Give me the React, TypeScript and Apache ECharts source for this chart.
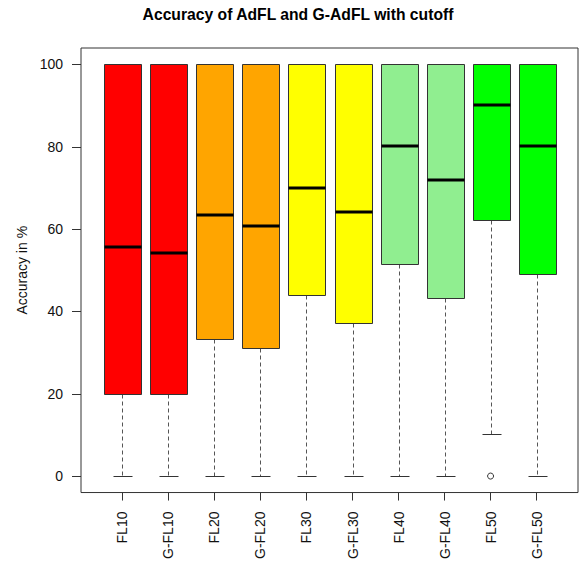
import React, { useEffect, useRef } from "react";
import * as echarts from "echarts";

const categories = ["FL10", "G-FL10", "FL20", "G-FL20", "FL30", "G-FL30", "FL40", "G-FL40", "FL50", "G-FL50"];
const lowerWhisker = [0, 0, 0, 0, 0, 0, 0, 0, 10.2, 0];
const q1 = [20, 20, 33.2, 31.2, 44, 37.1, 51.5, 43.2, 62.2, 49.1];
const median = [55.7, 54.1, 63.5, 60.7, 70.1, 64.2, 80.1, 72, 90.2, 80.2];
const q3 = [100, 100, 100, 100, 100, 100, 100, 100, 100, 100];
const upperWhisker = [100, 100, 100, 100, 100, 100, 100, 100, 100, 100];
const outlierCategory = ["FL50"];
const outlierValue = [0];
const boxColors = ["#FF0000", "#FF0000", "#FFA500", "#FFA500", "#FFFF00", "#FFFF00", "#90EE90", "#90EE90", "#00FF00", "#00FF00"];
const yTicks = [0, 20, 40, 60, 80, 100];
const titleText = "Accuracy of AdFL and G-AdFL with cutoff";
const yAxisTitle = "Accuracy in %";

export default function App() {
  const ref = useRef<HTMLDivElement>(null);
  useEffect(() => {
    if (!ref.current) return;
    const chart = echarts.init(ref.current, null, { renderer: "svg" });
    const boxData = categories.map((c, i) => [i + 1, lowerWhisker[i], q1[i], median[i], q3[i], upperWhisker[i]]);
    const outData = outlierCategory.map((c, i) => [categories.indexOf(c) + 1, outlierValue[i]]);
    const font = "Liberation Sans, Arial, sans-serif";
    const xPositions = categories.map((c, i) => i + 1);
    chart.setOption({
      animation: false,
      backgroundColor: "#ffffff",
      grid: {
        left: 81,
        top: 48,
        width: 497,
        height: 445,
        show: true,
        borderColor: "#333",
        borderWidth: 1,
        backgroundColor: "transparent",
      },
      graphic: [
        {
          type: "text",
          x: 298,
          y: 14,
          style: {
            text: titleText,
            font: "bold 15.7px " + font,
            fill: "#000",
            textAlign: "center",
            textVerticalAlign: "middle",
          },
        },
      ],
      xAxis: {
        type: "value",
        min: 0.1,
        max: 10.9,
        splitLine: { show: false },
        axisLine: { show: false, onZero: false },
        axisTick: { show: true, length: 8, customValues: xPositions, lineStyle: { color: "#333" } },
        axisLabel: {
          customValues: xPositions,
          rotate: 90,
          margin: 19,
          fontSize: 14,
          fontFamily: font,
          color: "#111",
          formatter: (v: number) => categories[Math.round(v) - 1] || "",
        },
      },
      yAxis: {
        type: "value",
        min: -4,
        max: 104,
        name: yAxisTitle,
        nameLocation: "middle",
        nameGap: 52,
        nameTextStyle: { fontSize: 14, fontFamily: font, color: "#111" },
        splitLine: { show: false },
        axisLine: { show: false, onZero: false },
        axisTick: { show: true, length: 9, customValues: yTicks, lineStyle: { color: "#333" } },
        axisLabel: {
          customValues: yTicks,
          margin: 18,
          fontSize: 14,
          fontFamily: font,
          color: "#111",
        },
      },
      series: [
        {
          type: "custom",
          data: boxData,
          encode: { x: 0, y: [1, 2, 3, 4, 5] },
          renderItem: (params: any, api: any) => {
            const x = api.value(0);
            const idx = params.dataIndex;
            const pMin = api.coord([x, api.value(1)]);
            const pQ1 = api.coord([x, api.value(2)]);
            const pMed = api.coord([x, api.value(3)]);
            const pQ3 = api.coord([x, api.value(4)]);
            const pMax = api.coord([x, api.value(5)]);
            const bw = api.size([0.8, 0])[0];
            const cw = bw / 2;
            const cx = Math.round(pMin[0]) + 0.5;
            const left = Math.round(cx - bw / 2) + 0.5;
            const right = Math.round(cx + bw / 2) + 0.5;
            const r = (v: number) => Math.round(v) + 0.5;
            const dashed = { stroke: "#555", lineWidth: 1, lineDash: [4, 3] };
            const solid = { stroke: "#333", lineWidth: 1 };
            return {
              type: "group",
              children: [
                { type: "line", shape: { x1: cx, y1: r(pQ1[1]), x2: cx, y2: r(pMin[1]) }, style: dashed },
                { type: "line", shape: { x1: cx, y1: r(pQ3[1]), x2: cx, y2: r(pMax[1]) }, style: dashed },
                { type: "line", shape: { x1: r(cx - cw / 2), y1: r(pMin[1]), x2: r(cx + cw / 2), y2: r(pMin[1]) }, style: solid },
                { type: "line", shape: { x1: r(cx - cw / 2), y1: r(pMax[1]), x2: r(cx + cw / 2), y2: r(pMax[1]) }, style: solid },
                {
                  type: "rect",
                  shape: { x: left, y: r(pQ3[1]), width: right - left, height: r(pQ1[1]) - r(pQ3[1]) },
                  style: { fill: boxColors[idx], stroke: "#333", lineWidth: 1 },
                },
                { type: "line", shape: { x1: left, y1: Math.round(pMed[1]), x2: right, y2: Math.round(pMed[1]) }, style: { stroke: "#000", lineWidth: 3 } },
              ],
            };
          },
        },
        {
          type: "scatter",
          data: outData,
          symbol: "circle",
          symbolSize: 6,
          itemStyle: { color: "#fff", borderColor: "#000", borderWidth: 1 },
        },
      ],
    });
    return () => chart.dispose();
  }, []);
  return <div ref={ref} style={{ position: "fixed", left: 0, top: 0, width: 579, height: 562 }} />;
}
